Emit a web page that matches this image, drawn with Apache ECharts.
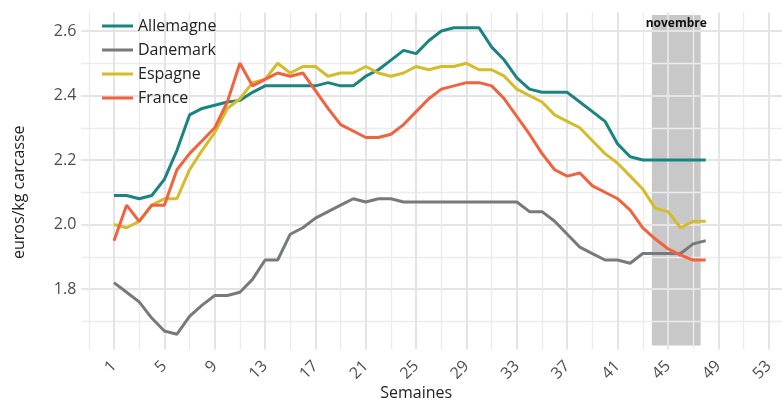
<!DOCTYPE html>
<html>
<head>
<meta charset="utf-8">
<script src="https://cdn.jsdelivr.net/npm/echarts@6.0.0/dist/echarts.min.js"></script>
<style>
  html, body { margin: 0; padding: 0; background: #fff; }
  #chart { width: 782px; height: 401px; }
</style>
</head>
<body>
<div id="chart"></div>
<script>
  // semaines 1..48
  const weeks = [];
  for (let w = 1; w <= 48; w++) weeks.push(w);

  const allemagne = [2.09, 2.09, 2.08, 2.09, 2.14, 2.23, 2.34, 2.36, 2.37, 2.38,
    2.385, 2.41, 2.43, 2.43, 2.43, 2.43, 2.43, 2.44, 2.43, 2.43,
    2.46, 2.48, 2.51, 2.54, 2.53, 2.57, 2.60, 2.61, 2.61, 2.61,
    2.55, 2.51, 2.455, 2.42, 2.41, 2.41, 2.41, 2.38, 2.35, 2.32,
    2.25, 2.21, 2.20, 2.20, 2.20, 2.20, 2.20, 2.20];
  const danemark = [1.82, 1.79, 1.76, 1.71, 1.67, 1.66, 1.715, 1.75, 1.78, 1.78,
    1.79, 1.83, 1.89, 1.89, 1.97, 1.99, 2.02, 2.04, 2.06, 2.08,
    2.07, 2.08, 2.08, 2.07, 2.07, 2.07, 2.07, 2.07, 2.07, 2.07,
    2.07, 2.07, 2.07, 2.04, 2.04, 2.01, 1.97, 1.93, 1.91, 1.89,
    1.89, 1.88, 1.91, 1.91, 1.91, 1.91, 1.94, 1.95];
  const espagne = [2.00, 1.99, 2.01, 2.06, 2.08, 2.08, 2.17, 2.23, 2.285, 2.36,
    2.39, 2.44, 2.45, 2.50, 2.47, 2.49, 2.49, 2.46, 2.47, 2.47,
    2.49, 2.47, 2.46, 2.47, 2.49, 2.48, 2.49, 2.49, 2.50, 2.48,
    2.48, 2.46, 2.42, 2.40, 2.38, 2.34, 2.32, 2.30, 2.26, 2.22,
    2.19, 2.15, 2.11, 2.05, 2.04, 1.99, 2.01, 2.01];
  const france = [1.95, 2.06, 2.01, 2.06, 2.06, 2.17, 2.22, 2.26, 2.30, 2.38,
    2.50, 2.43, 2.45, 2.47, 2.46, 2.47, 2.415, 2.36, 2.31, 2.29,
    2.27, 2.27, 2.28, 2.31, 2.35, 2.39, 2.42, 2.43, 2.44, 2.44,
    2.43, 2.39, 2.335, 2.28, 2.22, 2.17, 2.15, 2.16, 2.12, 2.10,
    2.08, 2.045, 1.99, 1.955, 1.925, 1.905, 1.89, 1.89];

  const countries = ["Allemagne", "Danemark", "Espagne", "France"];
  const values = [allemagne, danemark, espagne, france];
  const colors = ["#1a8481", "#78797b", "#d4bc2b", "#f2623e"];

  // bande "novembre" (semaines / euros)
  const novX = [43.72, 47.6];
  const novY = [1.625, 2.65];

  // panneau (l'image coupe le panneau a droite, a x = 782)
  const W = 782, H = 401;
  const pxPerWeek = 12.59;
  const x1 = 114; // pixel de la semaine 1
  const px = v => x1 + (v - 1) * pxPerWeek;
  const xVal = p => 1 + (p - x1) / pxPerWeek;
  const yExt = [1.6125, 2.6575];
  const panel = { left: 81.3, top: 12.5, right: W, bottom: 349.5 };
  const xExt = [xVal(panel.left), xVal(panel.right)];
  const py = v => panel.top + (yExt[1] - v) / (yExt[1] - yExt[0]) * (panel.bottom - panel.top);

  const font = "Open Sans";
  const majorLine = { color: "#e4e4e4", width: 2 };
  const minorLine = { color: "#ececec", width: 1.3 };
  const hidden = { show: false };

  const grids = [
    { left: panel.left, right: W - panel.right, top: panel.top, bottom: H - panel.bottom },
    { left: px(1), right: W - px(53), top: panel.top, bottom: H - panel.bottom },
    { left: px(-1), right: W - px(51), top: panel.top, bottom: H - panel.bottom },
    { left: panel.left, right: W - panel.right, top: py(2.6), bottom: H - py(1.8) },
    { left: panel.left, right: W - panel.right, top: py(2.5), bottom: H - py(1.7) },
  ];

  const option = {
    backgroundColor: "#fff",
    animation: false,
    textStyle: { fontFamily: font },
    grid: grids.map(g => Object.assign({ containLabel: false, outerBoundsMode: "none" }, g)),
    legend: {
      data: countries,
      orient: "vertical",
      left: 97,
      top: 13,
      icon: "rect",
      itemWidth: 31,
      itemHeight: 3,
      itemGap: 8,
      textStyle: { fontSize: 16, color: "#222", fontFamily: font },
    },
    xAxis: [
      { gridIndex: 0, type: "value", min: xExt[0], max: xExt[1], show: false },
      {
        gridIndex: 1, type: "value", min: 1, max: 53, interval: 4, z: 1.5,
        axisLine: hidden, axisTick: hidden,
        splitLine: { show: true, lineStyle: majorLine },
        axisLabel: { rotate: 45, fontSize: 16, color: "#4d4d4d", margin: 14, fontFamily: font },
      },
      {
        // la grille 2 couvre les semaines -1..51 : son milieu tombe sous le titre
        gridIndex: 2, type: "value", min: -1, max: 51, interval: 4, z: 1.5,
        axisLine: hidden, axisTick: hidden, axisLabel: hidden,
        splitLine: { show: true, lineStyle: minorLine },
        name: "Semaines", nameLocation: "middle", nameGap: 36,
        nameTextStyle: { fontSize: 16, color: "#222", fontFamily: font },
      },
      { gridIndex: 3, type: "value", min: 0, max: 1, show: false },
      { gridIndex: 4, type: "value", min: 0, max: 1, show: false },
    ],
    yAxis: [
      { gridIndex: 0, type: "value", min: yExt[0], max: yExt[1], show: false },
      { gridIndex: 1, type: "value", min: 0, max: 1, show: false },
      { gridIndex: 2, type: "value", min: 0, max: 1, show: false },
      {
        gridIndex: 3, type: "value", min: 1.8, max: 2.6, interval: 0.2, z: 1.5,
        axisLine: hidden, axisTick: hidden,
        splitLine: { show: true, lineStyle: majorLine },
        axisLabel: { fontSize: 16, color: "#4d4d4d", margin: 5, fontFamily: font,
          formatter: v => v.toFixed(1) },
      },
      {
        gridIndex: 4, type: "value", min: 1.7, max: 2.5, interval: 0.2, z: 1.5,
        axisLine: hidden, axisTick: hidden, axisLabel: hidden,
        splitLine: { show: true, lineStyle: minorLine },
        name: "euros/kg carcasse", nameLocation: "middle", nameGap: 54,
        nameTextStyle: { fontSize: 16, color: "#222", fontFamily: font },
      },
    ],
    series: [
      {
        // fond gris, sous la grille
        type: "line", name: "_nov", xAxisIndex: 0, yAxisIndex: 0, data: [], z: 1,
        markArea: {
          silent: true, z: 1,
          itemStyle: { color: "#c7c8c7" },
          label: { show: false },
          data: [[{ coord: [novX[0], novY[1]] }, { coord: [novX[1], novY[0]] }]],
        },
      },
      {
        // etiquette, au-dessus de la grille
        type: "line", name: "_novLabel", xAxisIndex: 0, yAxisIndex: 0, data: [], z: 4,
        markArea: {
          silent: true, z: 4,
          itemStyle: { color: "rgba(0,0,0,0)" },
          label: { show: true, position: "insideTop", distance: 3, fontSize: 12,
            fontWeight: "bold", color: "#111", fontFamily: font },
          data: [[{ name: "novembre", coord: [novX[0], novY[1]] }, { coord: [novX[1], novY[0]] }]],
        },
      },
    ].concat(countries.map((name, i) => ({
      type: "line",
      name: name,
      xAxisIndex: 0,
      yAxisIndex: 0,
      z: 3,
      symbol: "none",
      color: colors[i],
      lineStyle: { width: 3, color: colors[i] },
      data: weeks.map((w, k) => [w, values[i][k]]),
    }))),
  };

  const chart = echarts.init(document.getElementById("chart"), null, { renderer: "canvas" });
  chart.setOption(option);
</script>
</body>
</html>
